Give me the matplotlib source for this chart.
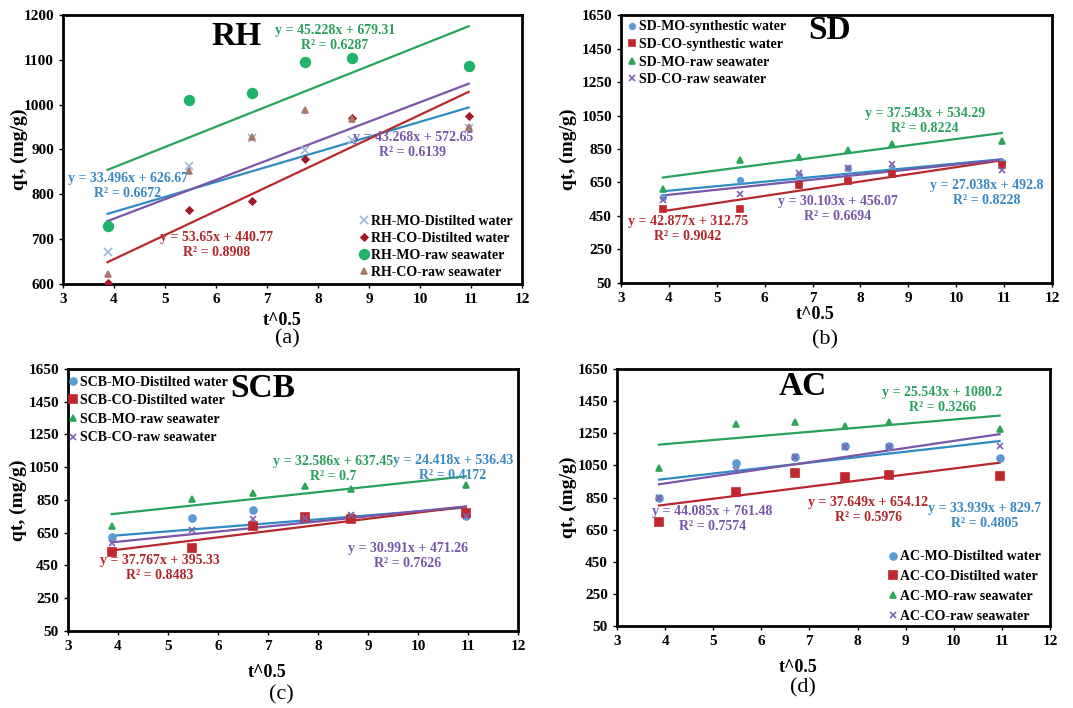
import matplotlib
matplotlib.use('Agg')
import matplotlib.pyplot as plt
import numpy as np

plt.rcParams['font.family'] = ['Liberation Serif', 'DejaVu Serif']
plt.rcParams['font.weight'] = 'bold'

# square root of contact time (x axis)
t_sqrt = [3.873, 5.477, 6.708, 7.746, 8.660, 10.954]

# RH panel (a)
rh_labels = ['RH-MO-Distilted water', 'RH-CO-Distilted water', 'RH-MO-raw seawater', 'RH-CO-raw seawater']
rh_mo_dw = [671, 862, 925, 899, 922, 948]
rh_co_dw = [602, 764, 786, 879, 970, 974]
rh_mo_sw = [730, 1011, 1025, 1095, 1104, 1087]
rh_co_sw = [623, 853, 927, 988, 969, 950]
rh_slope = [33.496, 53.65, 45.228, 43.268]
rh_icpt = [626.67, 440.77, 679.31, 572.65]
rh_r2 = [0.6672, 0.8908, 0.6287, 0.6139]

# SD panel (b)
sd_labels = ['SD-MO-synthestic water', 'SD-CO-synthestic water', 'SD-MO-raw seawater', 'SD-CO-raw seawater']
sd_mo_syn = [565, 662, 692, 737, 731, 770]
sd_co_syn = [493, 493, 635, 661, 698, 754]
sd_mo_sw = [614, 784, 805, 842, 877, 897]
sd_co_sw = [545, 579, 709, 737, 758, 723]
sd_slope = [27.038, 42.877, 37.543, 30.103]
sd_icpt = [492.8, 312.75, 534.29, 456.07]
sd_r2 = [0.8228, 0.9042, 0.8224, 0.6694]

# SCB panel (c)
scb_labels = ['SCB-MO-Distilted water', 'SCB-CO-Distilted water', 'SCB-MO-raw seawater', 'SCB-CO-raw seawater']
scb_mo_dw = [625, 738, 786, 748, 748, 755]
scb_co_dw = [535, 555, 694, 748, 736, 769]
scb_mo_sw = [690, 859, 891, 933, 920, 943]
scb_co_sw = [590, 669, 732, 738, 759, 752]
scb_slope = [24.418, 37.767, 32.586, 30.991]
scb_icpt = [536.43, 395.33, 637.45, 471.26]
scb_r2 = [0.4172, 0.8483, 0.7, 0.7626]

# AC panel (d)
ac_labels = ['AC-MO-Distilted water', 'AC-CO-Distilted water', 'AC-MO-raw seawater', 'AC-CO-raw seawater']
ac_mo_dw = [850, 1066, 1103, 1173, 1168, 1094]
ac_co_dw = [695, 882, 1005, 979, 992, 984]
ac_mo_sw = [1035, 1310, 1323, 1296, 1317, 1274]
ac_co_sw = [844, 1020, 1103, 1162, 1162, 1168]
ac_slope = [33.939, 37.649, 25.543, 44.085]
ac_icpt = [829.7, 654.12, 1080.2, 761.48]
ac_r2 = [0.4805, 0.5976, 0.3266, 0.7574]

line_cols = ['#2f8bc4', '#b8282d', '#27a35e', '#7a56a8']
text_cols = ['#3a88c2', '#b0262c', '#2ba05e', '#7657a6']


def panel(ax, title, title_xy, series, labels, slopes, icpts, r2s, eq_pos,
          mk, mk_cols, mk_sizes, ylim, yticks, leg):
    x = np.array(t_sqrt)
    for i in range(4):
        ax.plot(x, series[i], linestyle='none', marker=mk[i], color=mk_cols[i],
                markersize=mk_sizes[i], markeredgewidth=1.2, label=labels[i], zorder=3)
    for i in range(4):
        xl = np.array([x[0], x[-1]])
        ax.plot(xl, slopes[i] * xl + icpts[i], color=line_cols[i], lw=1.6, zorder=2)
        txt = 'y = %gx + %g\nR² = %g' % (slopes[i], icpts[i], r2s[i])
        ax.text(eq_pos[i][0], eq_pos[i][1], txt, color=text_cols[i], fontsize=10,
                ha='center', va='center', multialignment='center', zorder=4)
    ax.text(title_xy[0], title_xy[1], title, fontsize=24, fontweight='bold',
            ha='center', va='center')
    ax.set_xlim(3, 12)
    ax.set_ylim(ylim)
    ax.set_xticks(range(3, 13))
    ax.set_yticks(yticks)
    ax.tick_params(labelsize=11, length=3, width=1)
    for s in ax.spines.values():
        s.set_linewidth(2)
    lg = ax.legend(loc=leg[0], bbox_to_anchor=leg[1], frameon=False, fontsize=10,
                   handlelength=0.6, handletextpad=0.2, labelspacing=leg[2],
                   borderaxespad=0, borderpad=0.2)
    for t in lg.get_texts():
        t.set_fontweight('bold')


fig = plt.figure(figsize=(10.73, 7.08), dpi=100)
ax_a = fig.add_axes([0.0587, 0.5989, 0.4278, 0.380])
ax_b = fig.add_axes([0.5787, 0.6003, 0.4017, 0.3785])
ax_c = fig.add_axes([0.0634, 0.1088, 0.4194, 0.370])
ax_d = fig.add_axes([0.5750, 0.1158, 0.4035, 0.363])

ticks_b = [50, 250, 450, 650, 850, 1050, 1250, 1450, 1650]
std_cols = ['#5b9bd5', '#c0282d', '#2aa55a', '#7e62b0']
std_mk = ['o', 's', '^', 'x']
std_sz = [5, 5.5, 5, 5]

panel(ax_a, 'RH', (6.41, 1151), [rh_mo_dw, rh_co_dw, rh_mo_sw, rh_co_sw], rh_labels,
      rh_slope, rh_icpt, rh_r2,
      [(4.27, 819), (6.02, 687), (8.33, 1148), (9.86, 911)],
      ['x', 'D', 'o', '^'], ['#9db7d8', '#a3162a', '#1fb36c', '#a8786c'], [6, 3.5, 7, 4.5],
      (600, 1200), range(600, 1201, 100), ('lower right', (0.985, 0.01), 0.28))

panel(ax_b, 'SD', (7.36, 1560), [sd_mo_syn, sd_co_syn, sd_mo_sw, sd_co_sw], sd_labels,
      sd_slope, sd_icpt, sd_r2,
      [(10.64, 587), (4.40, 370), (9.35, 1020), (7.53, 489)],
      std_mk, std_cols, [4, 4.5, 4.5, 4.5],
      (50, 1650), ticks_b, ('upper left', (0.01, 0.99), 0.33))

panel(ax_c, 'SCB', (6.9, 1534), [scb_mo_dw, scb_co_dw, scb_mo_sw, scb_co_sw], scb_labels,
      scb_slope, scb_icpt, scb_r2,
      [(10.7, 1045), (4.84, 432), (8.3, 1042), (9.8, 505)],
      std_mk, std_cols, std_sz,
      (50, 1650), ticks_b, ('upper left', (-0.005, 0.985), 0.4))

panel(ax_d, 'AC', (6.87, 1538), [ac_mo_dw, ac_co_dw, ac_mo_sw, ac_co_sw], ac_labels,
      ac_slope, ac_icpt, ac_r2,
      [(10.65, 735), (8.22, 775), (9.76, 1457), (4.98, 716)],
      std_mk, std_cols, std_sz,
      (50, 1650), ticks_b, ('lower right', (0.985, 0.0), 0.5))

axes = [ax_a, ax_b, ax_c, ax_d]
ylab_x = [-0.094, -0.123, -0.111, -0.113]
xlab_pos = [(0.477, -0.134), (0.45, -0.119), (0.442, -0.16), (0.418, -0.163)]
sub_pos = [(0.488, -0.205), (0.473, -0.213), (0.473, -0.244), (0.43, -0.241)]
subs = ['(a)', '(b)', '(c)', '(d)']
for i in range(4):
    ax = axes[i]
    ax.set_ylabel('qt, (mg/g)', fontsize=14, fontweight='bold')
    ax.yaxis.label.set_va('center')
    ax.yaxis.set_label_coords(ylab_x[i], 0.5)
    ax.set_xlabel('t^0.5', fontsize=13, fontweight='bold')
    ax.xaxis.label.set_va('center')
    ax.xaxis.set_label_coords(xlab_pos[i][0], xlab_pos[i][1])
    ax.text(sub_pos[i][0], sub_pos[i][1], subs[i], transform=ax.transAxes,
            fontsize=16, fontweight='normal', ha='center', va='center')

fig.savefig('out.png', dpi=100)
